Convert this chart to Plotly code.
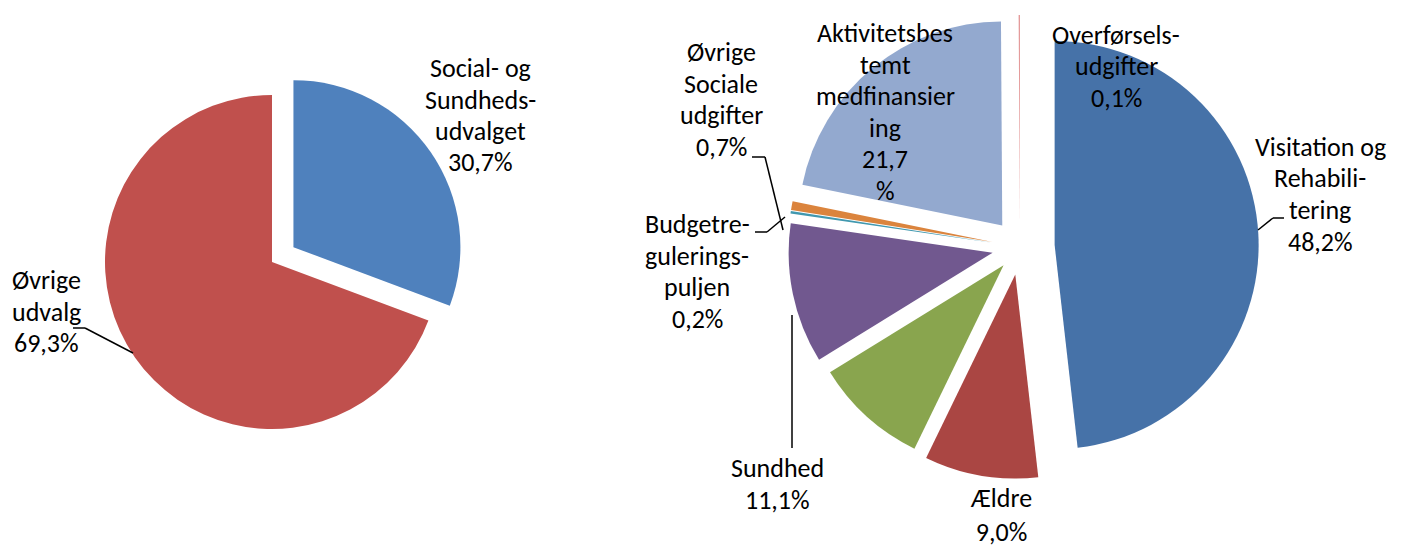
import plotly.graph_objects as go

W, H = 1403, 550

# venstre cirkel
left_labels = ["Social- og Sundhedsudvalget", "Øvrige udvalg"]
left_values = [30.7, 69.3]
left_colors = ["#4F81BD", "#C0504D"]
left_pull = [0.156, 0]

# højre cirkel (grøn del har ingen etiket i originalen)
right_labels = ["Visitation og Rehabilitering", "Ældre", "Øvrigt", "Sundhed",
                "Budgetreguleringspuljen", "Øvrige Sociale udgifter",
                "Aktivitetsbestemt medfinansiering", "Overførselsudgifter"]
right_values = [48.2, 9.0, 9.0, 11.1, 0.2, 0.7, 21.7, 0.1]
right_colors = ["#4672A8", "#AA4643", "#89A54E", "#71588F", "#4198AF",
                "#DB843D", "#93A9CF", "#E39595"]
right_pull = [0.17, 0.137, 0.12, 0.137, 0.137, 0.137, 0.137, 0.137]

# etiketter: linjer, center x, y for første linje (pixels)
label_texts = [
    (["Social- og", "Sundheds-", "udvalget", "30,7%"], 481, 68),
    (["Øvrige", "udvalg", "69,3%"], 46, 280),
    (["Aktivitetsbes", "temt", "medfinansier", "ing", "21,7", "%"], 885, 33),
    (["Overførsels-", "udgifter", "0,1%"], 1116, 35),
    (["Øvrige", "Sociale", "udgifter", "0,7%"], 721, 52),
    (["Budgetre-", "gulerings-", "puljen", "0,2%"], 697, 224),
    (["Visitation og", "Rehabili-", "tering", "48,2%"], 1320, 147),
    (["Sundhed", "11,1%"], 777, 468),
]
line_gap = 31.5
# nederste etiket ligger helt ved kanten: samlet tekst forankret i bunden
bottom_label = (["Ældre", "9,0%"], 1001, 549)

# forbindelseslinjer (pixels)
leaders = [
    [(73, 328), (85, 328), (133, 353)],
    [(752, 157), (765, 157), (783, 230)],
    [(755, 232), (767, 232), (785, 217)],
    [(792, 315), (792, 448)],
    [(1258, 230), (1273, 218), (1284, 218)],
]

def dom(cx, cy, half):
    return dict(x=[(cx - half) / W, (cx + half) / W],
                y=[1 - (cy + half) / H, 1 - (cy - half) / H])

fig = go.Figure()
fig.add_trace(go.Pie(labels=left_labels, values=left_values, sort=False,
                     direction="clockwise", rotation=0, pull=left_pull,
                     marker=dict(colors=left_colors), textinfo="none",
                     domain=dom(272, 262, 167 * (1 + max(left_pull))), showlegend=False))
fig.add_trace(go.Pie(labels=right_labels, values=right_values, sort=False,
                     direction="clockwise", rotation=0, pull=right_pull,
                     marker=dict(colors=right_colors), textinfo="none",
                     domain=dom(1020, 247, 204 * (1 + max(right_pull))), showlegend=False))

font = dict(family="Carlito, Lato, sans-serif", size=26, color="black")
annotations = []
for lines, x, y in label_texts:
    for i, t in enumerate(lines):
        annotations.append(dict(text=t, x=x / W, y=1 - (y + i * line_gap) / H,
                                xref="paper", yref="paper", showarrow=False,
                                xanchor="center", yanchor="middle", borderpad=0,
                                font=font))
lines, x, y = bottom_label
annotations.append(dict(text="<br>".join(lines), x=x / W, y=1 - y / H,
                        xref="paper", yref="paper", showarrow=False,
                        xanchor="center", yanchor="bottom", borderpad=0,
                        font=font))

shapes = []
for pts in leaders:
    for (x0, y0), (x1, y1) in zip(pts[:-1], pts[1:]):
        shapes.append(dict(type="line", xref="paper", yref="paper",
                           x0=x0 / W, y0=1 - y0 / H, x1=x1 / W, y1=1 - y1 / H,
                           line=dict(color="black", width=1.5)))

fig.update_layout(width=W, height=H, margin=dict(l=0, r=0, t=0, b=0),
                  paper_bgcolor="white", plot_bgcolor="white",
                  annotations=annotations, shapes=shapes)

fig.write_html("out.html", config={"displayModeBar": False},
               post_script="document.body.style.margin='0';")
